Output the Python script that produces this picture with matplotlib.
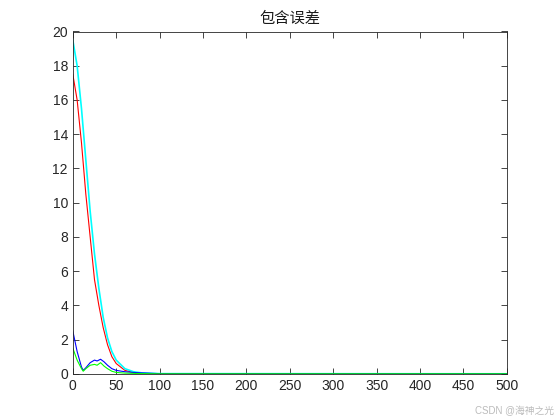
import matplotlib
matplotlib.use("Agg")
import matplotlib.pyplot as plt

plt.rcParams['font.family'] = ['Liberation Sans', 'Noto Sans CJK SC', 'DejaVu Sans']

cyan_x = [0, 5, 10, 15, 20, 25, 30, 35, 40, 45, 50, 60, 70, 80, 100, 500]
cyan_y = [19.5, 18, 15.5, 12.5, 9.5, 7, 5, 3.3, 2.1, 1.3, 0.8, 0.3, 0.12, 0.05, 0.01, 0]
red_x = [0, 5, 10, 15, 20, 25, 30, 35, 40, 45, 50, 60, 70, 80, 100, 500]
red_y = [17.5, 16, 13.5, 10.5, 8, 5.5, 4, 2.7, 1.7, 1, 0.6, 0.2, 0.08, 0.03, 0, 0]
blue_x = [0, 5, 10, 12, 15, 20, 25, 28, 32, 36, 40, 45, 50, 60, 70, 80, 100, 500]
blue_y = [2.5, 1.3, 0.4, 0.2, 0.35, 0.65, 0.8, 0.75, 0.85, 0.7, 0.5, 0.3, 0.2, 0.12, 0.08, 0.05, 0.01, 0]
green_x = [0, 5, 10, 12, 15, 20, 25, 28, 32, 36, 40, 45, 50, 60, 80, 100, 500]
green_y = [1.5, 0.8, 0.3, 0.15, 0.3, 0.5, 0.55, 0.5, 0.65, 0.45, 0.3, 0.15, 0.08, 0.04, 0.01, 0, 0]

fig = plt.figure(figsize=(5.6, 4.2), dpi=100)
ax = fig.add_axes([0.13, 0.11, 0.775, 0.815])
ax.plot(red_x, red_y, color='red', lw=0.8)
ax.plot(cyan_x, cyan_y, color='cyan', lw=1.2)
ax.plot(blue_x, blue_y, color='blue', lw=0.8)
ax.plot(green_x, green_y, color='lime', lw=0.8)
ax.set_xlim(0, 500)
ax.set_ylim(0, 20)
ax.set_xticks(range(0, 501, 50))
ax.set_yticks(range(0, 21, 2))
ax.tick_params(direction='in', top=True, right=True, labelsize=10, length=4, width=0.6, colors='#262626')
for s in ax.spines.values():
    s.set_linewidth(0.6)
    s.set_color('#262626')
ax.set_title('包含误差', fontsize=11, color='#1a1a1a')
fig.text(0.99, 0.01, 'CSDN @海神之光', ha='right', va='bottom', fontsize=7, color='#bbbbbb')
fig.savefig('out.png', dpi=100)
